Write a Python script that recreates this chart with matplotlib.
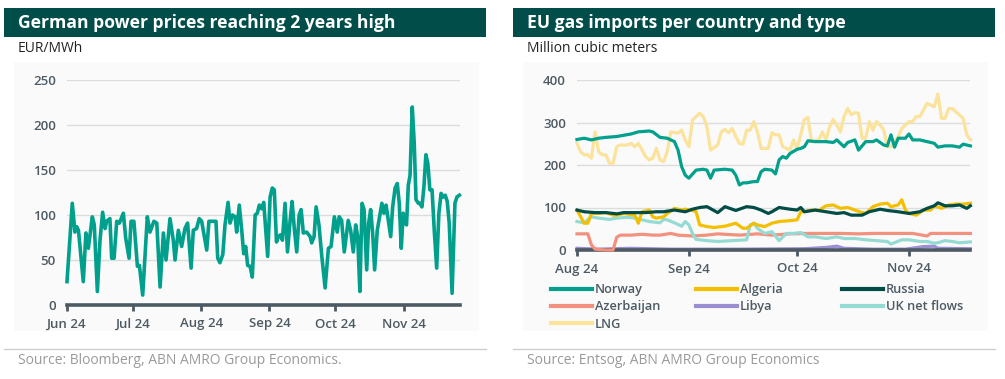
import pandas as pd
import matplotlib
matplotlib.use("Agg")
import matplotlib.pyplot as plt
import matplotlib.dates as mdates
from matplotlib.patches import Rectangle

plt.rcParams["font.family"] = ["Open Sans", "DejaVu Sans"]

# ==== DATA ====
# German power prices (EUR/MWh), days since 1 Jun 2024
power_days = [0, 2.4, 3.6, 4.4, 5.2, 7.4, 8.6, 9.7, 11.5, 12.4, 13.8, 15, 16.2, 17.3, 18, 19.5,
              20.3, 21.4, 22.6, 23.8, 25.6, 26.7, 28.2, 29.1, 30.4, 32, 32.9, 34.4, 36.5, 37.7,
              39.5, 40.8, 42.3, 43.8, 45, 46.8, 48.3, 49.1, 50.6, 52.1, 53.6, 54.8, 56.4, 57.4,
              58.9, 60.1, 61.2, 63.5, 64.5, 66.5, 67.7, 68.5, 69.5, 70.8, 71.8, 73.2, 74.1, 75.2,
              76.4, 77.1, 78.3, 79.4, 80.3, 81.2, 82.1, 83.2, 84.2, 85.5, 86.5, 87.4, 88.5, 89.4,
              91.2, 92.3, 93.3, 94.2, 95.2, 96.1, 97, 97.9, 99.1, 100.2, 101.4, 102.3, 103.3,
              104.4, 105.5, 106.4, 107.4, 108.9, 110.5, 111.2, 112.3, 113.2, 114.5, 115.8, 117.3,
              118.8, 120, 121.5, 122.8, 123.7, 124.8, 126, 127.8, 128.9, 130.1, 131.2, 132.1,
              133.1, 134.1, 135, 136.2, 137.1, 138, 138.9, 139.8, 141, 142.2, 143.1, 144, 145,
              146, 147.1, 148, 149.1, 150.1, 151, 151.9, 152.8, 153.7, 154.3, 155.1, 155.9, 156.9,
              157.8, 158.6, 159.7, 160.4, 161.3, 162.2, 163.1, 164, 164.9, 165.9, 166.9, 168, 169,
              170, 170.9, 171.9, 172.8, 173.7, 175, 176.3, 177.2, 178.3]
power_vals = [26, 113, 81, 87, 83, 26, 80, 63, 98, 89, 15, 72, 103, 85, 93, 96, 52, 52, 93, 91,
              102, 74, 52, 93, 93, 43, 44, 11, 98, 81, 93, 91, 20, 80, 50, 96, 72, 50, 83, 65,
              85, 91, 41, 83, 85, 96,
              93, 61, 93, 93, 93, 52, 47, 56, 89, 114, 91, 100, 98, 81, 111, 83, 57, 65, 44, 43,
              31, 100, 102, 111, 107, 114, 54, 120, 130, 128, 70, 76, 78, 72, 113, 59, 94, 115,
              85, 59, 100, 106, 80, 81, 76, 69, 76, 109, 89, 54, 19, 63, 65, 98,
              81, 98, 94, 59, 94, 83, 59, 89, 76, 15, 113, 106, 39, 91, 106, 80, 39, 83, 100, 113,
              102, 111, 94, 76, 109, 130, 135, 113, 63, 102, 91, 89, 133, 144, 220, 180, 117, 113,
              113, 109, 131, 167, 157, 128, 128, 83, 41, 102, 124, 120, 122, 115, 91, 13, 113,
              120, 122]

# EU gas imports (million cubic meters), days since 1 Aug 2024
norway_days = [0, 2, 4, 6, 8, 11, 13, 15, 17, 20, 21, 23, 25, 27, 28, 29, 30, 31, 33, 35, 36, 37,
               38, 41, 43, 44, 45, 46, 47, 49, 50, 51, 52, 54, 55, 56, 57, 58, 59, 61, 62, 63, 64,
               66, 69, 71, 72, 74, 75, 77, 78, 80, 82, 83, 85, 86, 87, 88, 89, 91, 92, 93, 95, 97,
               99, 100, 102, 104, 106, 107, 109]
norway_vals = [260, 263, 259, 263, 265, 267, 270, 273, 278, 280, 278, 265, 263, 255, 235, 196,
               176, 169, 188, 190, 188, 169, 188, 190, 188, 176, 153, 158, 158, 161, 161, 184,
               190, 188, 179, 212, 220, 216, 227, 237, 239, 243, 257, 255, 255, 253, 259, 243,
               253, 259, 235, 255, 255, 259, 247, 245, 271, 242, 263, 263, 273, 259, 259, 255,
               251, 242, 245, 245, 242, 249, 245]

lng_days = [0, 1, 2, 3, 4, 5, 6, 7, 8, 9, 10, 11, 12, 14, 15, 16, 17, 19, 20, 21, 22, 23, 24, 25,
            26, 28, 29, 30, 31, 32, 34, 35, 36, 37, 39, 40, 41, 42, 43, 44, 45, 46, 47, 48, 49,
            50, 51, 53, 54, 55, 56, 57, 59, 60, 61, 62, 63, 64, 65, 67, 68, 69, 70, 71, 72, 73,
            74, 75, 76, 77, 78, 79, 80, 81, 82, 83, 84, 85, 86, 87, 89, 90, 92, 93, 94, 95, 97,
            98, 99, 100, 101, 102, 103, 104, 105, 107, 108, 109]
lng_vals = [251, 231, 224, 224, 216, 278, 231, 224, 224, 204, 204, 243, 247, 247, 251, 243, 251,
            220, 212, 216, 239, 212, 208, 231, 278, 275, 282, 259, 243, 306, 322, 314, 290, 235,
            247, 278, 284, 276, 286, 267, 251, 249, 282, 282, 302, 278, 239, 239, 276, 271, 271,
            243, 235, 259, 239, 271, 307, 312, 255, 259, 278, 259, 290, 307, 294, 278, 314, 333,
            318, 323, 322, 263, 263, 302, 282, 302, 294, 282, 243, 243, 267, 286, 302, 302, 314,
            314, 345, 341, 337, 367, 310, 310, 333, 333, 325, 310, 271, 259]

russia_days = [0, 2, 5, 8, 11, 13, 16, 19, 22, 24, 27, 30, 32, 34, 36, 39, 41, 44, 47, 49, 51,
               53, 54, 56, 59, 61, 62, 63, 66, 69, 72, 74, 76, 79, 81, 84, 86, 89, 92, 95, 97, 99,
               100, 102, 104, 106, 108, 109]
russia_vals = [94, 90, 88, 88, 85, 88, 88, 88, 90, 90, 94, 90, 96, 100, 102, 88, 102, 93, 102,
               100, 94, 86, 90, 100, 96, 94, 100, 90, 94, 90, 86, 88, 82, 82, 90, 96, 93, 90, 86,
               90, 98, 104, 111, 104, 104, 106, 98, 104]

algeria_days = [0, 2, 3, 4, 6, 8, 10, 11, 13, 16, 17, 18, 20, 21, 22, 24, 25, 27, 29, 30, 32,
                33, 34, 36, 38, 41, 44, 46, 47, 49, 50, 52, 54, 56, 59, 61, 62, 63, 65, 67, 69,
                71, 73, 75, 77, 79, 80, 82, 84, 86, 87, 89, 90, 91, 92, 94, 96, 98, 99, 101, 103,
                105, 107, 109]
algeria_vals = [94, 63, 63, 86, 86, 88, 82, 82, 86, 82, 63, 90, 94, 78, 75, 78, 86, 98, 94, 96,
                93, 90, 59, 55, 53, 56, 63, 51, 51, 63, 59, 55, 63, 67, 69, 71, 90, 90, 94, 93,
                104, 106, 98, 100, 94, 88, 86, 102, 108, 110, 102, 106, 118, 94, 86, 82, 94, 94,
                104, 98, 106, 108, 108, 110]

azer_days = [0, 3, 4, 5, 8, 10, 11, 12, 15, 18, 21, 23, 26, 28, 32, 36, 39, 45, 50, 54, 59, 63,
             69, 73, 78, 82, 87, 93, 97, 98, 104, 109]
azer_vals = [38, 38, 12, 2, 0, 0, 30, 35, 35, 37, 35, 35, 39, 35, 33, 35, 38, 35, 38, 35, 38,
             39, 39, 39, 38, 39, 39, 39, 33, 39, 39, 39]

libya_days = [0, 6, 15, 26, 45, 63, 69, 72, 74, 82, 91, 96, 99, 100, 109]
libya_vals = [4, 2, 4, 2, 2, 3, 6, 9, 4, 2, 2, 8, 9, 4, 3]

uk_days = [0, 2, 4, 6, 9, 11, 14, 16, 18, 20, 23, 24, 25, 27, 29, 30, 31, 32, 33, 36, 39, 43,
           47, 48, 49, 50, 52, 54, 55, 56, 58, 60, 62, 64, 66, 69, 72, 74, 77, 80, 83, 86, 87,
           90, 92, 95, 97, 99, 100, 102, 104, 106, 109]
uk_vals = [67, 64, 78, 75, 72, 75, 77, 75, 71, 67, 64, 72, 71, 64, 56, 67, 59, 39, 25, 22, 20,
           22, 24, 59, 63, 51, 39, 43, 33, 22, 39, 39, 41, 31, 31, 27, 31, 27, 27, 24, 22, 20,
           14, 24, 24, 20, 20, 16, 17, 22, 20, 17, 19]

gas_series = [
    ("Norway", norway_days, norway_vals, "#00A08C"),
    ("Algeria", algeria_days, algeria_vals, "#F4BF00"),
    ("Russia", russia_days, russia_vals, "#004D47"),
    ("Azerbaijan", azer_days, azer_vals, "#F2917E"),
    ("Libya", libya_days, libya_vals, "#9B8ED3"),
    ("UK net flows", uk_days, uk_vals, "#95DBD3"),
    ("LNG", lng_days, lng_vals, "#FBE39C"),
]
# draw order (bottom first)
draw_order = ["Libya", "Azerbaijan", "UK net flows", "LNG", "Norway", "Algeria", "Russia"]

# ==== STYLE ====
W, H = 1005, 379
BAR = "#004D4A"
TICK = "#4D5A63"
GRID = "#DCDCDC"
SRC = "#9A9A9A"


def fx(px):
    return px / W


def fy(py):
    return 1 - py / H


def style_axis(ax, ymax, ystep):
    ax.set_facecolor("none")
    ax.set_ylim(0, ymax)
    ax.set_yticks(range(0, ymax + 1, ystep))
    ax.grid(axis="y", color=GRID, lw=1.0)
    ax.set_axisbelow(True)
    for s in ["top", "right", "left"]:
        ax.spines[s].set_visible(False)
    ax.spines["bottom"].set_color(TICK)
    ax.spines["bottom"].set_linewidth(2.6)
    ax.tick_params(axis="y", length=0, pad=8, labelsize=9.5, labelcolor=TICK)
    ax.tick_params(axis="x", length=4, width=2, color=TICK, pad=5, labelsize=9.5, labelcolor=TICK)
    ax.xaxis.set_major_locator(mdates.MonthLocator())
    ax.xaxis.set_major_formatter(mdates.DateFormatter("%b %y"))
    for lab in ax.get_xticklabels() + ax.get_yticklabels():
        lab.set_fontweight("semibold")


def panel_frame(fig, x0, x1, title, unit, source):
    # light background box
    fig.patches.append(Rectangle((fx(x0 + 10), fy(331)), fx(x1 - x0 - 17), fy(62) - fy(331),
                                 transform=fig.transFigure, facecolor="#FAFAFA",
                                 edgecolor="none", zorder=-5))
    # title bar
    fig.patches.append(Rectangle((fx(x0), fy(37)), fx(x1 - x0), fy(8) - fy(37),
                                 transform=fig.transFigure, facecolor=BAR,
                                 edgecolor="none", zorder=-4))
    fig.text(fx(x0 + 14), fy(23), title, color="white", fontsize=12.6, fontweight="bold",
             va="center", ha="left")
    fig.text(fx(x0 + 14), fy(48), unit, color="#222222", fontsize=10, va="center", ha="left")
    fig.add_artist(plt.Line2D([fx(x0), fx(x1)], [fy(349), fy(349)], color="#CFCFCF", lw=1,
                              transform=fig.transFigure))
    fig.text(fx(x0 + 14), fy(361), source, color=SRC, fontsize=10, va="center", ha="left")


fig = plt.figure(figsize=(W / 100, H / 100), dpi=100)
fig.patch.set_facecolor("white")

panel_frame(fig, 4, 486, "German power prices reaching 2 years high", "EUR/MWh",
            "Source: Bloomberg, ABN AMRO Group Economics.")
panel_frame(fig, 513, 995, "EU gas imports per country and type", "Million cubic meters",
            "Source: Entsog, ABN AMRO Group Economics")

# ---- left chart ----
ax1 = fig.add_axes([fx(67), fy(305), fx(393), fy(80) - fy(305)])
start1 = pd.Timestamp("2024-06-01")
x1 = start1 + pd.to_timedelta(power_days, unit="D")
ax1.plot(x1, power_vals, color="#00A08C", lw=2.6, solid_joinstyle="round", clip_on=False)
ax1.set_xlim(start1, start1 + pd.Timedelta(days=178.6))
style_axis(ax1, 250, 50)

# ---- right chart ----
ax2 = fig.add_axes([fx(577), fy(250), fx(393), fy(80) - fy(250)])
start2 = pd.Timestamp("2024-08-01")
lines = {}
for name, days, vals, col in gas_series:
    xs = start2 + pd.to_timedelta(days, unit="D")
    ln, = ax2.plot(xs, vals, color=col, lw=2.3, label=name, solid_joinstyle="round",
                   zorder=2 + draw_order.index(name), clip_on=False)
    lines[name] = ln
ax2.set_xlim(start2, start2 + pd.Timedelta(days=108.9))
style_axis(ax2, 400, 100)

# legend: three columns laid out like the original
columns = [(["Norway", "Azerbaijan", "LNG"], 551),
           (["Algeria", "Libya"], 696),
           (["Russia", "UK net flows"], 842)]
for names, xpos in columns:
    leg = fig.legend([lines[n] for n in names], names, loc="upper left",
                     bbox_to_anchor=(fx(xpos), fy(283)), frameon=False, fontsize=9.2,
                     handlelength=3.2, handletextpad=0.25, labelspacing=0.35,
                     borderaxespad=0, borderpad=0)
    for t in leg.get_texts():
        t.set_color(TICK)
        t.set_fontweight("semibold")
    for h in leg.legend_handles:
        h.set_linewidth(3)

fig.savefig("out.png", dpi=100)
